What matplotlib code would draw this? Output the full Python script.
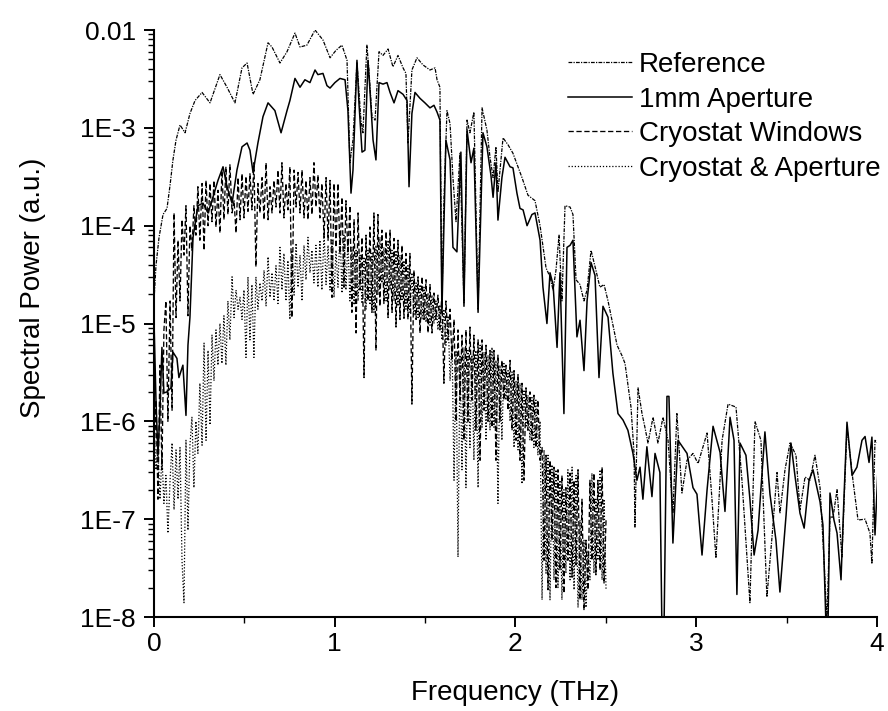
import numpy as np
import matplotlib.pyplot as plt
from matplotlib.ticker import FixedLocator, FixedFormatter, LogLocator, MultipleLocator, NullFormatter

plt.rcParams['font.family'] = ['Liberation Sans', 'DejaVu Sans']

# --- spectra (frequency in THz, spectral power in a.u.) ---
ref_data = [
    (0.000, 1.7e-5), (0.011, 3.9e-5), (0.028, 7.6e-5), (0.050, 1.3e-4), (0.072, 1.5e-4),
    (0.089, 2.6e-4), (0.105, 4.7e-4), (0.122, 7.5e-4), (0.144, 1.07e-3), (0.172, 8.9e-4),
    (0.199, 1.4e-3), (0.227, 1.9e-3), (0.266, 2.3e-3), (0.310, 1.8e-3), (0.365, 3.5e-3),
    (0.404, 2.6e-3), (0.448, 1.8e-3), (0.487, 4.1e-3), (0.515, 4.6e-3), (0.548, 2.2e-3),
    (0.586, 3.1e-3), (0.631, 7.4e-3), (0.653, 6.7e-3), (0.697, 4.6e-3), (0.736, 6.0e-3),
    (0.780, 9.3e-3), (0.808, 6.7e-3), (0.846, 7.0e-3), (0.891, 1.0e-2), (0.935, 7.9e-3),
    (0.974, 5.2e-3), (1.007, 6.2e-3), (1.040, 7.0e-3), (1.068, 4.9e-3), (1.084, 4.4e-4),
    (1.101, 7.5e-4), (1.123, 4.7e-3), (1.145, 1.2e-3), (1.156, 8.9e-4), (1.178, 7.0e-3),
    (1.189, 3.9e-3), (1.206, 1.3e-3), (1.223, 1.2e-3), (1.245, 6.0e-3), (1.267, 5.5e-3),
    (1.295, 6.4e-3), (1.322, 4.2e-3), (1.350, 5.5e-3), (1.378, 4.1e-3), (1.394, 3.6e-3),
    (1.405, 7.0e-4), (1.427, 3.9e-3), (1.455, 5.2e-3), (1.488, 4.4e-3), (1.527, 3.9e-3),
    (1.555, 4.1e-3), (1.566, 3.1e-3), (1.582, 2.6e-3), (1.593, 1.5e-5), (1.604, 1.8e-4),
    (1.621, 1.5e-3), (1.638, 1.1e-3), (1.654, 3.1e-4), (1.671, 1.1e-4), (1.693, 5.5e-4),
    (1.715, 1.6e-5), (1.732, 1.2e-3), (1.748, 8.9e-4), (1.770, 1.45e-3), (1.793, 1.4e-5),
    (1.815, 1.6e-3), (1.842, 9.5e-4), (1.859, 5.0e-4), (1.876, 3.1e-4), (1.892, 6.4e-4),
    (1.903, 2.2e-4), (1.931, 7.9e-4), (1.959, 6.7e-4), (1.986, 5.5e-4), (2.014, 4.0e-4),
    (2.036, 3.1e-4), (2.069, 2.05e-4), (2.108, 1.8e-4), (2.136, 1.0e-4), (2.169, 3.7e-5),
    (2.191, 3.0e-5), (2.208, 2.2e-5), (2.224, 3.5e-5), (2.241, 8.0e-5), (2.257, 1.7e-5),
    (2.274, 1.6e-4), (2.302, 1.55e-4), (2.318, 1.3e-4), (2.335, 2.8e-5), (2.357, 2.5e-5),
    (2.379, 1.7e-5), (2.396, 2.2e-5), (2.418, 5.6e-5), (2.445, 3.5e-5), (2.467, 2.35e-5),
    (2.490, 2.5e-5), (2.512, 1.7e-5), (2.534, 1.08e-5), (2.562, 6.0e-6), (2.589, 4.7e-6),
    (2.606, 3.9e-6), (2.639, 1.4e-6), (2.656, 4.7e-7), (2.661, 8.3e-8), (2.678, 2.2e-6),
    (2.700, 1.2e-6), (2.716, 8.7e-7), (2.733, 6.0e-7), (2.761, 1.1e-6), (2.788, 6.0e-7),
    (2.816, 1.1e-6), (2.844, 6.4e-7), (2.871, 1.15e-7), (2.893, 1.2e-6), (2.921, 1.85e-7),
    (2.949, 4.0e-7), (2.982, 4.7e-7), (3.010, 3.7e-7), (3.060, 7.6e-7), (3.087, 1.6e-7),
    (3.109, 4.0e-8), (3.143, 6.4e-7), (3.176, 1.5e-6), (3.220, 1.4e-6), (3.253, 2.5e-7),
    (3.297, 1.4e-8), (3.325, 1.0e-6), (3.358, 6.4e-7), (3.391, 1.6e-8), (3.419, 6.5e-8),
    (3.447, 3.0e-7), (3.463, 1.15e-7), (3.491, 3.2e-7), (3.519, 6.0e-7), (3.552, 4.5e-7),
    (3.574, 1.25e-7), (3.602, 2.7e-7), (3.629, 2.5e-7), (3.657, 4.5e-7), (3.685, 2.1e-7),
    (3.707, 3.8e-8), (3.723, 9.0e-9), (3.740, 1.05e-7), (3.757, 1.05e-7), (3.779, 2.0e-7),
    (3.806, 4.1e-8), (3.834, 8.7e-7), (3.867, 2.5e-7), (3.895, 9.8e-8), (3.934, 1.0e-7),
    (3.961, 7.2e-8), (3.972, 3.5e-8), (3.989, 6.4e-7), (4.006, 6.0e-7),
]

aperture_data = [
    (0.000, 1.08e-5), (0.011, 1.65e-6), (0.022, 4.5e-7), (0.033, 1.3e-6), (0.044, 5.7e-6),
    (0.055, 1.95e-6), (0.072, 2.0e-6), (0.094, 2.2e-6), (0.105, 5.1e-6), (0.127, 4.4e-6),
    (0.138, 2.8e-6), (0.160, 3.75e-6), (0.177, 1.15e-6), (0.188, 6.0e-6), (0.199, 1.16e-5),
    (0.216, 7.6e-5), (0.243, 1.6e-4), (0.271, 1.7e-4), (0.299, 1.35e-4), (0.326, 1.95e-4),
    (0.354, 2.9e-4), (0.382, 4.0e-4), (0.404, 2.5e-4), (0.432, 1.7e-4), (0.459, 3.7e-4),
    (0.487, 6.4e-4), (0.515, 7.0e-4), (0.531, 5.9e-4), (0.548, 3.5e-4), (0.575, 7.0e-4),
    (0.603, 1.3e-3), (0.631, 1.8e-3), (0.669, 1.5e-3), (0.703, 8.9e-4), (0.736, 1.5e-3),
    (0.752, 1.9e-3), (0.780, 3.2e-3), (0.808, 2.6e-3), (0.835, 3.1e-3), (0.863, 2.9e-3),
    (0.891, 3.9e-3), (0.907, 3.5e-3), (0.935, 3.6e-3), (0.957, 2.7e-3), (0.974, 2.55e-3),
    (1.001, 2.9e-3), (1.029, 3.2e-3), (1.057, 3.1e-3), (1.073, 1.5e-3), (1.090, 2.15e-4),
    (1.101, 3.7e-4), (1.123, 4.9e-3), (1.134, 1.8e-3), (1.151, 5.65e-4), (1.167, 5.9e-4),
    (1.184, 4.9e-3), (1.195, 2.4e-3), (1.212, 7.5e-4), (1.228, 4.7e-4), (1.245, 2.9e-3),
    (1.267, 2.8e-3), (1.289, 2.9e-3), (1.306, 2.3e-3), (1.328, 1.8e-3), (1.350, 2.4e-3),
    (1.378, 2.2e-3), (1.400, 1.9e-3), (1.411, 2.5e-4), (1.427, 1.4e-3), (1.444, 2.3e-3),
    (1.472, 2.0e-3), (1.499, 1.8e-3), (1.527, 1.6e-3), (1.549, 1.7e-3), (1.566, 1.45e-3),
    (1.582, 1.2e-3), (1.593, 1.3e-5), (1.615, 7.5e-4), (1.638, 4.7e-4), (1.654, 6.0e-5),
    (1.676, 5.4e-5), (1.698, 5.65e-4), (1.715, 1.5e-5), (1.732, 9.5e-4), (1.754, 4.4e-4),
    (1.770, 6.2e-4), (1.793, 1.3e-5), (1.820, 8.9e-4), (1.842, 6.4e-4), (1.864, 3.3e-4),
    (1.876, 1.95e-4), (1.892, 4.4e-4), (1.903, 1.14e-4), (1.925, 3.1e-4), (1.942, 5.0e-4),
    (1.970, 4.0e-4), (1.986, 3.9e-4), (2.008, 2.15e-4), (2.025, 1.5e-4), (2.042, 1.45e-4),
    (2.064, 1.0e-4), (2.091, 1.3e-4), (2.108, 1.35e-4), (2.136, 7.1e-5), (2.152, 2.35e-5),
    (2.174, 1.0e-5), (2.191, 3.3e-5), (2.208, 2.5e-5), (2.230, 5.7e-6), (2.246, 3.3e-5),
    (2.268, 1.2e-6), (2.285, 6.0e-5), (2.302, 6.3e-5), (2.318, 7.1e-5), (2.340, 7.3e-6),
    (2.357, 1.08e-5), (2.379, 3.3e-6), (2.396, 1.7e-5), (2.418, 4.2e-5), (2.440, 3.1e-5),
    (2.462, 2.8e-6), (2.484, 1.5e-5), (2.512, 1.16e-5), (2.539, 3.1e-6), (2.567, 1.2e-6),
    (2.595, 1.03e-6), (2.622, 8.1e-7), (2.650, 4.7e-7), (2.672, 2.5e-7), (2.689, 3.4e-7),
    (2.705, 1.6e-7), (2.727, 5.5e-7), (2.755, 1.7e-7), (2.772, 4.7e-7), (2.799, 3.0e-7),
    (2.810, 8.0e-9), (2.822, 8.0e-9), (2.838, 1.8e-6), (2.849, 1.8e-6), (2.871, 5.7e-8),
    (2.899, 6.4e-7), (2.949, 4.7e-7), (2.982, 2.1e-7), (3.004, 1.8e-7), (3.032, 4.3e-8),
    (3.060, 2.0e-7), (3.093, 8.9e-7), (3.132, 4.8e-7), (3.159, 1.2e-7), (3.187, 1.1e-6),
    (3.209, 6.4e-7), (3.225, 1.7e-8), (3.242, 6.0e-7), (3.275, 4.5e-7), (3.297, 1.6e-7),
    (3.320, 4.3e-8), (3.342, 7.7e-8), (3.380, 7.8e-7), (3.408, 1.8e-7), (3.441, 6.1e-8),
    (3.463, 1.8e-8), (3.497, 1.1e-7), (3.524, 6.0e-7), (3.546, 2.8e-7), (3.574, 1.15e-7),
    (3.597, 8.1e-8), (3.624, 2.5e-7), (3.646, 3.2e-7), (3.685, 1.5e-7), (3.701, 8.7e-8),
    (3.718, 8.0e-9), (3.729, 8.0e-9), (3.740, 1.85e-7), (3.762, 9.8e-8), (3.779, 7.2e-8),
    (3.801, 2.4e-8), (3.817, 1.6e-7), (3.834, 9.8e-7), (3.862, 2.8e-7), (3.889, 3.4e-7),
    (3.917, 6.4e-7), (3.934, 7.0e-7), (3.956, 3.8e-7), (3.972, 6.9e-7), (3.989, 6.9e-8),
    (4.006, 3.4e-7),
]

# cryostat measurements share one frequency grid: (freq, windows, cryostat & aperture)
cryo_data = [
    (0.000, 3.2e-7, 8.1e-7), (0.011, 1.65e-6, 3.2e-7), (0.022, 1.6e-7, 5.1e-7), (0.033, 3.75e-6, 1.6e-7),
    (0.044, 3.2e-7, 4.5e-7), (0.055, 8.6e-6, 1.45e-7), (0.066, 1.7e-5, 2.8e-7), (0.077, 1.0e-6, 7.2e-8),
    (0.089, 1.7e-5, 2.5e-7), (0.100, 1.3e-6, 6.0e-7), (0.111, 1.35e-4, 1.25e-7), (0.122, 1.15e-5, 5.1e-7),
    (0.133, 7.1e-5, 1.6e-7), (0.144, 1.7e-5, 5.4e-7), (0.155, 1.15e-4, 3.8e-8), (0.166, 5.0e-5, 1.4e-8),
    (0.177, 1.6e-4, 6.4e-7), (0.188, 1.2e-5, 7.7e-8), (0.199, 1.0e-4, 5.7e-7), (0.210, 5.6e-5, 1.1e-6),
    (0.221, 1.6e-4, 2.1e-7), (0.232, 8.0e-5, 1.0e-6), (0.243, 2.5e-4, 4.7e-7), (0.254, 7.1e-5, 2.45e-6),
    (0.266, 2.7e-4, 5.7e-7), (0.277, 5.6e-5, 6.3e-6), (0.288, 2.9e-4, 6.4e-7), (0.299, 1.0e-4, 5.3e-6),
    (0.310, 2.7e-4, 9.2e-7), (0.321, 1.1e-4, 7.6e-6), (0.332, 2.9e-4, 2.6e-6), (0.343, 9.7e-5, 8.6e-6),
    (0.354, 2.3e-4, 3.75e-6), (0.365, 8.4e-5, 1.0e-5), (0.376, 3.7e-4, 3.9e-6), (0.387, 1.15e-4, 1.2e-5),
    (0.398, 4.0e-4, 3.75e-6), (0.409, 1.3e-4, 1.7e-5), (0.420, 4.2e-4, 6.8e-6), (0.432, 1.35e-4, 3.0e-5),
    (0.443, 1.8e-4, 1.15e-5), (0.454, 8.4e-5, 2.2e-5), (0.465, 3.1e-4, 1.4e-5), (0.476, 1.15e-4, 1.85e-5),
    (0.487, 3.4e-4, 1.1e-5), (0.498, 1.2e-4, 2.2e-5), (0.509, 3.2e-4, 4.5e-6), (0.520, 1.4e-4, 3.0e-5),
    (0.531, 3.4e-4, 6.8e-6), (0.542, 1.45e-4, 2.5e-5), (0.553, 4.4e-4, 4.5e-6), (0.564, 3.8e-5, 3.0e-5),
    (0.575, 2.7e-4, 1.4e-5), (0.586, 1.35e-4, 2.6e-5), (0.598, 3.1e-4, 1.7e-5), (0.609, 1.15e-4, 3.5e-5),
    (0.620, 4.4e-4, 1.5e-5), (0.631, 1.15e-4, 4.8e-5), (0.642, 2.5e-4, 1.85e-5), (0.653, 1.35e-4, 3.3e-5),
    (0.664, 2.9e-4, 1.7e-5), (0.675, 1.55e-4, 3.9e-5), (0.686, 3.7e-4, 1.6e-5), (0.697, 1.35e-4, 6.0e-5),
    (0.708, 4.4e-4, 2.2e-5), (0.719, 1.2e-4, 5.2e-5), (0.730, 2.7e-4, 1.7e-5), (0.741, 1.45e-4, 4.4e-5),
    (0.752, 4.0e-4, 1.1e-5), (0.763, 1.15e-5, 5.6e-5), (0.775, 3.7e-4, 1.95e-5), (0.786, 1.55e-4, 6.6e-5),
    (0.797, 3.5e-4, 2.35e-5), (0.808, 1.35e-4, 5.0e-5), (0.819, 3.7e-4, 1.7e-5), (0.830, 1.2e-4, 6.3e-5),
    (0.841, 2.9e-4, 2.8e-5), (0.852, 1.15e-4, 7.6e-5), (0.863, 3.1e-4, 3.3e-5), (0.874, 1.3e-4, 5.6e-5),
    (0.885, 4.4e-4, 2.6e-5), (0.896, 1.55e-4, 6.3e-5), (0.907, 3.3e-4, 2.35e-5), (0.918, 1.2e-4, 7.1e-5),
    (0.929, 2.7e-4, 2.2e-5), (0.941, 7.6e-5, 8.4e-5), (0.952, 3.1e-4, 2.5e-5), (0.963, 7.1e-5, 6.3e-5),
    (0.974, 2.9e-4, 2.2e-5), (0.985, 1.85e-5, 7.1e-5), (0.996, 2.7e-4, 1.85e-5), (1.007, 6.0e-5, 5.6e-5),
    (1.018, 2.7e-4, 2.35e-5), (1.029, 5.2e-5, 9.0e-5), (1.040, 1.95e-4, 2.05e-5), (1.051, 2.35e-5, 8.0e-5),
    (1.062, 1.8e-4, 2.2e-5), (1.073, 5.2e-5, 7.1e-5), (1.084, 1.6e-4, 1.7e-5), (1.095, 1.3e-5, 6.0e-5),
    (1.107, 1.15e-4, 1.55e-5), (1.118, 8.0e-6, 5.6e-5), (1.129, 1.35e-4, 1.7e-5), (1.140, 2.2e-5, 5.0e-5),
    (1.151, 7.6e-5, 1.6e-5), (1.162, 2.8e-6, 4.8e-5), (1.173, 8.0e-5, 1.4e-5), (1.184, 1.7e-5, 5.6e-5),
    (1.195, 9.7e-5, 1.55e-5), (1.206, 1.3e-5, 5.2e-5), (1.217, 1.35e-4, 1.3e-5), (1.228, 5.3e-6, 6.3e-5),
    (1.239, 1.3e-4, 1.95e-5), (1.250, 1.5e-5, 7.6e-5), (1.261, 9.0e-5, 2.6e-5), (1.272, 1.6e-5, 6.0e-5),
    (1.284, 8.7e-5, 1.7e-5), (1.295, 1.15e-5, 7.1e-5), (1.306, 9.0e-5, 2.2e-5), (1.317, 1.3e-5, 5.6e-5),
    (1.328, 7.4e-5, 1.7e-5), (1.339, 9.2e-6, 5.6e-5), (1.350, 7.1e-5, 1.5e-5), (1.361, 1.1e-5, 5.0e-5),
    (1.372, 6.3e-5, 1.7e-5), (1.383, 1.13e-5, 4.4e-5), (1.394, 5.2e-5, 1.4e-5), (1.405, 1.1e-5, 3.9e-5),
    (1.416, 5.2e-5, 1.3e-5), (1.427, 1.5e-6, 3.3e-5), (1.438, 3.5e-5, 1.2e-5), (1.450, 1.1e-5, 2.6e-5),
    (1.461, 3.0e-5, 1.15e-5), (1.472, 8.0e-6, 2.5e-5), (1.483, 3.0e-5, 1.1e-5), (1.494, 1.1e-5, 2.35e-5),
    (1.505, 2.8e-5, 1.03e-5), (1.516, 8.0e-6, 2.05e-5), (1.527, 2.5e-5, 9.6e-6), (1.538, 8.0e-6, 1.95e-5),
    (1.549, 2.05e-5, 1.0e-5), (1.560, 1.1e-5, 1.7e-5), (1.571, 1.95e-5, 8.6e-6), (1.582, 8.6e-6, 1.55e-5),
    (1.593, 2.05e-5, 6.8e-6), (1.604, 2.45e-6, 1.4e-5), (1.615, 1.7e-5, 6.0e-6), (1.627, 6.8e-6, 1.2e-5),
    (1.638, 1.4e-5, 2.6e-6), (1.649, 4.2e-6, 6.3e-6), (1.660, 1.1e-5, 2.5e-7), (1.671, 1.0e-6, 5.3e-6),
    (1.682, 8.6e-6, 4.1e-8), (1.693, 1.65e-6, 4.75e-6), (1.704, 7.6e-6, 3.2e-7), (1.715, 6.4e-7, 5.7e-6),
    (1.726, 8.6e-6, 2.1e-7), (1.737, 1.0e-6, 5.3e-6), (1.748, 9.2e-6, 5.4e-7), (1.759, 1.65e-6, 4.75e-6),
    (1.770, 7.6e-6, 4.0e-7), (1.781, 8.1e-7, 5.3e-6), (1.793, 6.8e-6, 2.1e-7), (1.804, 4.0e-7, 6.0e-6),
    (1.815, 6.8e-6, 8.7e-7), (1.826, 1.3e-6, 5.1e-6), (1.837, 6.0e-6, 6.4e-7), (1.848, 1.0e-6, 4.75e-6),
    (1.859, 5.3e-6, 8.1e-7), (1.870, 8.7e-7, 5.7e-6), (1.881, 5.3e-6, 8.7e-7), (1.892, 4.0e-7, 4.2e-6),
    (1.903, 4.75e-6, 1.45e-7), (1.914, 1.0e-6, 3.75e-6), (1.925, 4.2e-6, 6.4e-7), (1.936, 1.65e-6, 3.9e-6),
    (1.947, 3.75e-6, 1.65e-6), (1.959, 1.3e-6, 3.3e-6), (1.970, 4.2e-6, 1.0e-6), (1.981, 8.1e-7, 3.2e-6),
    (1.992, 3.3e-6, 5.4e-7), (2.003, 6.4e-7, 2.6e-6), (2.014, 3.0e-6, 5.1e-7), (2.025, 4.0e-7, 2.45e-6),
    (2.036, 2.45e-6, 2.3e-7), (2.047, 2.5e-7, 2.1e-6), (2.058, 2.2e-6, 8.7e-7), (2.069, 8.1e-7, 1.85e-6),
    (2.080, 2.0e-6, 6.4e-7), (2.091, 6.4e-7, 1.75e-6), (2.102, 1.85e-6, 5.4e-7), (2.113, 5.4e-7, 1.65e-6),
    (2.124, 1.65e-6, 4.5e-7), (2.136, 4.0e-7, 1.0e-6), (2.147, 5.4e-7, 1.5e-8), (2.158, 3.8e-8, 5.1e-7),
    (2.169, 4.5e-7, 2.8e-8), (2.180, 1.9e-8, 4.5e-7), (2.191, 4.0e-7, 1.5e-8), (2.202, 6.1e-8, 3.6e-7),
    (2.213, 3.4e-7, 2.4e-8), (2.224, 2.0e-8, 3.2e-7), (2.235, 3.2e-7, 2.0e-8), (2.246, 3.0e-8, 2.5e-7),
    (2.257, 2.8e-7, 1.5e-8), (2.268, 1.75e-8, 2.0e-7), (2.279, 2.1e-7, 2.8e-8), (2.290, 3.8e-8, 3.2e-7),
    (2.302, 2.95e-7, 2.4e-8), (2.313, 2.55e-8, 3.4e-7), (2.324, 2.5e-7, 1.9e-8), (2.335, 3.4e-8, 2.8e-7),
    (2.346, 3.2e-7, 1.25e-8), (2.357, 1.5e-8, 9.8e-8), (2.368, 1.6e-7, 1.5e-8), (2.379, 1.17e-8, 6.1e-8),
    (2.390, 6.1e-8, 1.25e-8), (2.401, 1.9e-8, 4.8e-8), (2.412, 2.5e-7, 2.4e-8), (2.423, 3.8e-8, 2.95e-7),
    (2.434, 2.95e-7, 2.8e-8), (2.445, 2.7e-8, 1.6e-7), (2.456, 2.5e-7, 3.8e-8), (2.468, 3.0e-8, 3.2e-7),
    (2.479, 3.4e-7, 2.4e-8), (2.490, 2.2e-8, 1.6e-7), (2.501, 9.8e-8, 1.9e-8),
]

y_tick_values = [1e-8, 1e-7, 1e-6, 1e-5, 1e-4, 1e-3, 1e-2]
y_tick_labels = ['1E-8', '1E-7', '1E-6', '1E-5', '1E-4', '1E-3', '0.01']
x_tick_values = [0, 1, 2, 3, 4]

ref_freq, ref_power = np.array(ref_data).T
ap_freq, ap_power = np.array(aperture_data).T
cryo_freq, win_power, cryo_ap_power = np.array(cryo_data).T

# --- figure ---
fig = plt.figure(figsize=(8.88, 7.11), dpi=100)
ax = fig.add_axes([0.1734, 0.1322, 0.8142, 0.8256])

ax.plot(ref_freq, ref_power, color='black', lw=0.9, ls=(0, (3, 1, 1, 1)), label='Reference')
ax.plot(ap_freq, ap_power, color='black', lw=1.1, ls='-', label='1mm Aperture')
ax.plot(cryo_freq, win_power, color='black', lw=0.95, ls=(0, (4, 2)), label='Cryostat Windows')
ax.plot(cryo_freq, cryo_ap_power, color='black', lw=0.9, ls=(0, (1, 1.5)), label='Cryostat & Aperture')

ax.set_yscale('log')
ax.set_xlim(0, 4)
ax.set_ylim(1e-8, 1e-2)

ax.yaxis.set_major_locator(FixedLocator(y_tick_values))
ax.yaxis.set_major_formatter(FixedFormatter(y_tick_labels))
ax.yaxis.set_minor_locator(LogLocator(base=10, subs=np.arange(2, 10)))
ax.yaxis.set_minor_formatter(NullFormatter())
ax.xaxis.set_major_locator(FixedLocator(x_tick_values))
ax.xaxis.set_minor_locator(MultipleLocator(0.5))

for side in ['top', 'right']:
    ax.spines[side].set_visible(False)
for side in ['left', 'bottom']:
    ax.spines[side].set_linewidth(1.5)

ax.tick_params(which='major', direction='out', length=7, width=1.4, labelsize=19)
ax.tick_params(axis='y', which='major', pad=6)
ax.tick_params(axis='x', which='major', pad=4)
ax.tick_params(which='minor', direction='out', length=4, width=1.0)

ax.set_xlabel('Frequency (THz)', fontsize=20)
ax.set_ylabel('Spectral Power (a.u.)', fontsize=20)
ax.xaxis.set_label_coords(0.5, -0.107)
ax.yaxis.set_label_coords(-0.15, 0.56)

ax.legend(loc='upper left', bbox_to_anchor=(0.6396, 0.927), bbox_transform=fig.transFigure,
          frameon=False, fontsize=20, handlelength=2.3, handletextpad=0.25,
          labelspacing=0.31, borderpad=0, borderaxespad=0)

fig.savefig('out.png', dpi=100)
